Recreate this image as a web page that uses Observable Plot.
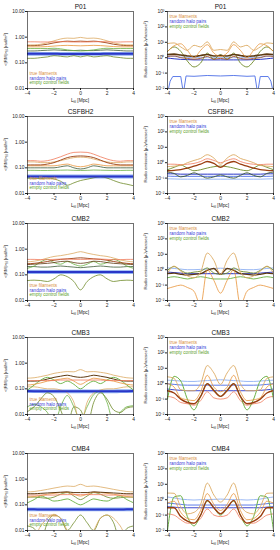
<!DOCTYPE html>
<html><head><meta charset="utf-8">
<script src="https://cdn.jsdelivr.net/npm/d3@7"></script>
<script src="https://cdn.jsdelivr.net/npm/@observablehq/plot@0.6"></script>
<style>
html,body{margin:0;padding:0;background:#fff;}
#chart{position:relative;width:280px;height:550px;overflow:hidden;font-family:"Liberation Sans",Arial,sans-serif;}
#chart .cell{position:absolute;width:140px;}
#chart svg{overflow:visible;}
</style></head><body><div id="chart"></div>
<script>
// ---------- shared axes ----------
const lfil = [-4,-3.5,-3,-2.5,-2,-1.5,-1,-0.5,0,0.5,1,1.5,2,2.5,3,3.5,4];
const xTicks = [-4,-2,0,2,4];
const rmTicks = [0.01,0.1,1,10];
const rmTickLabels = ["0.01","0.10","1.00","10.00"];
const radTicks = [1e-2,1e-1,1,1e1,1e2,1e3];
const radTickLabels = ["10\u207B\u00B2","10\u207B\u00B9","10\u2070","10\u00B9","10\u00B2","10\u00B3"];
const panelTitles = ["P01","CSFBH2","CMB2","CMB3","CMB4"];
const legendLabels = ["true filaments","random halo pairs","empty control fields"];

// ---------- <|RM|> panels (rad/m^2) ----------
const rmP01_salmon  = [0.66,0.66,0.65,0.65,0.66,0.67,0.66,0.65,0.65,0.65,0.66,0.67,0.66,0.65,0.65,0.66,0.66];
const rmP01_tan     = [0.50,0.50,0.53,0.60,0.72,0.85,0.92,0.90,0.98,0.90,0.92,0.85,0.72,0.60,0.53,0.50,0.50];
const rmP01_brown   = [0.47,0.47,0.49,0.53,0.60,0.66,0.70,0.68,0.70,0.68,0.70,0.66,0.60,0.53,0.49,0.47,0.47];
const rmP01_orange  = [0.42,0.42,0.42,0.43,0.45,0.47,0.48,0.47,0.46,0.47,0.48,0.47,0.45,0.43,0.42,0.42,0.42];
const rmP01_green   = [0.36,0.36,0.36,0.36,0.37,0.35,0.32,0.30,0.29,0.30,0.32,0.35,0.37,0.36,0.36,0.36,0.36];
const rmP01_olive   = [0.29,0.29,0.30,0.31,0.32,0.31,0.30,0.30,0.31,0.30,0.30,0.31,0.32,0.31,0.30,0.29,0.29];
const rmP01_blue    = [0.225,0.225,0.224,0.224,0.224,0.223,0.223,0.223,0.223,0.223,0.223,0.223,0.224,0.224,0.224,0.225,0.225];
const rmP01_oliveLo = [0.15,0.15,0.16,0.17,0.19,0.18,0.17,0.19,0.17,0.19,0.17,0.18,0.19,0.17,0.16,0.15,0.15];

const rmCS_salmon  = [0.19,0.19,0.18,0.19,0.22,0.27,0.34,0.40,0.41,0.40,0.34,0.27,0.22,0.19,0.18,0.19,0.19];
const rmCS_tan     = [0.17,0.17,0.16,0.16,0.17,0.19,0.22,0.25,0.26,0.25,0.22,0.19,0.17,0.16,0.16,0.17,0.17];
const rmCS_brown   = [0.13,0.13,0.13,0.14,0.16,0.20,0.25,0.28,0.29,0.28,0.25,0.20,0.16,0.14,0.13,0.13,0.13];
const rmCS_orange  = [0.12,0.12,0.12,0.12,0.12,0.13,0.14,0.12,0.11,0.12,0.14,0.13,0.12,0.12,0.12,0.12,0.12];
const rmCS_olive   = [0.10,0.10,0.10,0.10,0.10,0.11,0.12,0.10,0.09,0.10,0.12,0.11,0.10,0.10,0.10,0.10,0.10];
const rmCS_green   = [0.080,0.080,0.079,0.079,0.080,0.081,0.082,0.080,0.079,0.080,0.082,0.081,0.080,0.079,0.079,0.080,0.080];
const rmCS_blue    = [0.046,0.046,0.046,0.046,0.046,0.046,0.046,0.046,0.046,0.046,0.046,0.046,0.046,0.046,0.046,0.046,0.046];
const rmCS_oliveLo = [0.040,0.039,0.038,0.040,0.037,0.030,0.021,0.026,0.032,0.036,0.041,0.045,0.040,0.032,0.026,0.023,0.020];

const rmC2_salmon  = [0.40,0.40,0.39,0.39,0.40,0.41,0.41,0.40,0.40,0.40,0.41,0.41,0.40,0.39,0.39,0.40,0.40];
const rmC2_tan     = [0.32,0.34,0.38,0.45,0.52,0.56,0.62,0.70,0.80,0.70,0.62,0.56,0.52,0.45,0.38,0.34,0.32];
const rmC2_brown   = [0.27,0.28,0.30,0.33,0.37,0.40,0.42,0.44,0.46,0.44,0.42,0.40,0.37,0.33,0.30,0.28,0.27];
const rmC2_orange  = [0.25,0.26,0.27,0.28,0.30,0.33,0.34,0.30,0.28,0.30,0.34,0.33,0.30,0.28,0.27,0.26,0.25];
const rmC2_green   = [0.18,0.22,0.32,0.40,0.30,0.26,0.33,0.26,0.22,0.26,0.33,0.26,0.30,0.40,0.32,0.22,0.18];
const rmC2_olive   = [0.21,0.21,0.20,0.20,0.21,0.22,0.21,0.20,0.19,0.20,0.21,0.22,0.21,0.20,0.20,0.21,0.21];
const rmC2_blue    = [0.128,0.128,0.128,0.128,0.128,0.128,0.128,0.128,0.128,0.128,0.128,0.128,0.128,0.128,0.128,0.128,0.128];
const rmC2_oliveLo = [0.060,0.062,0.060,0.055,0.070,0.100,0.085,0.055,0.026,0.055,0.085,0.100,0.070,0.055,0.060,0.062,0.060];

const rmC3_tan     = [0.26,0.27,0.30,0.34,0.40,0.44,0.47,0.46,0.56,0.46,0.47,0.44,0.40,0.34,0.30,0.27,0.26];
const rmC3_salmon  = [0.21,0.21,0.21,0.21,0.21,0.22,0.22,0.22,0.22,0.22,0.22,0.22,0.21,0.21,0.21,0.21,0.21];
const rmC3_brown   = [0.20,0.20,0.21,0.24,0.28,0.31,0.34,0.30,0.28,0.30,0.34,0.31,0.28,0.24,0.21,0.20,0.20];
const rmC3_orange  = [0.14,0.15,0.17,0.20,0.22,0.24,0.26,0.20,0.15,0.20,0.26,0.24,0.22,0.20,0.17,0.15,0.14];
const rmC3_green   = [0.09,0.14,0.22,0.28,0.22,0.16,0.20,0.15,0.10,0.15,0.20,0.16,0.22,0.28,0.22,0.14,0.09];
const rmC3_blue    = [0.082,0.081,0.081,0.080,0.080,0.080,0.080,0.080,0.080,0.080,0.080,0.080,0.080,0.080,0.081,0.081,0.082];
const rmC3_tanLo   = [0.12,0.12,0.11,0.10,0.10,0.09,0.07,0.03,0.004,0.03,0.07,0.09,0.10,0.10,0.11,0.12,0.12];
const rmC3_oliveLo = [0.013,0.020,0.040,0.070,0.050,0.015,0.004,0.020,0.015,0.004,0.030,0.070,0.040,0.015,0.012,0.018,0.020];
const rmC3_greenLo = [0.020,0.025,0.020,0.012,0.004,0.020,0.055,0.020,0.006,0.020,0.060,0.080,0.030,0.005,0.012,0.020,0.022];

const rmC4_tan     = [0.32,0.33,0.36,0.40,0.45,0.50,0.54,0.52,0.63,0.52,0.54,0.50,0.45,0.40,0.36,0.33,0.32];
const rmC4_brown   = [0.27,0.27,0.28,0.29,0.30,0.31,0.32,0.30,0.30,0.30,0.32,0.31,0.30,0.29,0.28,0.27,0.27];
const rmC4_salmon  = [0.24,0.24,0.24,0.24,0.24,0.25,0.25,0.25,0.25,0.25,0.25,0.25,0.24,0.24,0.24,0.24,0.24];
const rmC4_orange  = [0.20,0.21,0.23,0.26,0.28,0.30,0.31,0.26,0.22,0.26,0.31,0.30,0.28,0.26,0.23,0.21,0.20];
const rmC4_green   = [0.20,0.20,0.19,0.18,0.20,0.26,0.30,0.22,0.16,0.22,0.30,0.26,0.20,0.18,0.19,0.20,0.20];
const rmC4_olive   = [0.12,0.16,0.22,0.18,0.14,0.15,0.17,0.13,0.10,0.13,0.17,0.15,0.14,0.18,0.22,0.16,0.12];
const rmC4_blue    = [0.067,0.067,0.066,0.066,0.066,0.066,0.066,0.066,0.066,0.066,0.066,0.066,0.066,0.066,0.066,0.067,0.067];
const rmC4_tanLo   = [0.010,0.006,0.015,0.030,0.040,0.030,0.010,0.004,0.002,0.004,0.010,0.030,0.040,0.030,0.015,0.006,0.010];
const rmC4_greenLo = [0.015,0.012,0.004,0.020,0.040,0.030,0.010,0.020,0.040,0.020,0.010,0.030,0.040,0.020,0.004,0.012,0.015];

// ---------- Radio emission panels (uJy/arcsec^2) ----------
const radP01_tan    = [8.3,9.1,5.0,3.0,6.4,5.0,10.7,3.0,3.4,3.0,10.7,5.0,6.4,3.0,5.0,9.1,8.3];
const radP01_orange = [2.5,6.0,8.0,3.0,1.0,3.0,7.0,2.0,1.2,2.0,7.0,3.0,1.0,3.0,8.0,6.0,2.5];
const radP01_olive  = [2.5,5.0,2.6,0.6,0.25,0.45,2.0,0.8,1.6,0.8,2.0,0.45,0.25,0.6,2.6,5.0,2.5];
const radP01_dbrown = [1.6,1.7,1.5,1.3,1.2,1.4,1.6,1.3,1.4,1.3,1.6,1.4,1.2,1.3,1.5,1.7,1.6];
const radP01_brown  = [1.2,1.3,1.0,0.9,0.8,0.9,1.2,0.8,0.9,0.8,1.2,0.9,0.8,0.9,1.0,1.3,1.2];
const radP01_lblue  = [1.3,1.2,1.1,1.05,1.0,1.0,1.0,1.0,1.0,1.0,1.0,1.0,1.0,1.05,1.1,1.2,1.3];
const radP01_blue   = [0.95,0.85,0.78,0.75,0.72,0.72,0.72,0.72,0.72,0.72,0.72,0.72,0.72,0.75,0.78,0.85,0.95];
const radP01_lowX   = [-4,-3.8,-3.6,-3.0,-2.8,-2.6,-2,-1,0,1,2,2.6,2.8,3.0,3.6,3.8,4];
const radP01_low    = [0.005,0.03,0.06,0.06,0.005,0.065,0.062,0.07,0.065,0.07,0.062,0.065,0.005,0.06,0.06,0.03,0.005];

const radCS_tan    = [0.55,0.6,0.66,1.0,1.4,1.9,3.3,2.0,0.8,2.0,3.3,1.9,1.4,1.0,0.66,0.6,0.55];
const radCS_salmon = [0.8,0.8,0.75,0.8,0.9,1.2,1.8,1.4,1.0,1.4,1.8,1.2,0.9,0.8,0.75,0.8,0.8];
const radCS_brown  = [0.30,0.32,0.35,0.45,0.6,0.8,1.2,0.9,0.5,0.9,1.2,0.8,0.6,0.45,0.35,0.32,0.30];
const radCS_olive  = [0.35,0.5,0.7,0.45,0.3,0.35,0.45,0.55,0.6,0.55,0.45,0.35,0.3,0.45,0.7,0.5,0.35];
const radCS_dgreen = [0.25,0.2,0.12,0.15,0.22,0.15,0.1,0.12,0.16,0.12,0.1,0.15,0.22,0.15,0.12,0.2,0.25];
const radCS_blue   = [0.19,0.19,0.18,0.18,0.18,0.18,0.18,0.18,0.18,0.18,0.18,0.18,0.18,0.18,0.18,0.19,0.19];
const radCS_mblue  = [0.135,0.13,0.13,0.13,0.13,0.13,0.13,0.13,0.13,0.13,0.13,0.13,0.13,0.13,0.13,0.13,0.135];
const radCS_lblue  = [0.09,0.088,0.085,0.085,0.085,0.085,0.085,0.085,0.085,0.085,0.085,0.085,0.085,0.085,0.085,0.088,0.09];

const radC2_tan    = [0.6,1.7,0.8,0.4,0.3,0.7,12,4.0,0.5,4.0,12,0.7,0.3,0.4,0.8,1.7,0.6];
const radC2_orange = [0.06,0.08,0.1,0.07,0.04,0.005,1.0,0.2,0.03,0.2,1.0,0.005,0.04,0.07,0.1,0.08,0.06];
const radC2_olive  = [0.9,1.6,0.9,0.6,0.7,0.8,1.3,0.6,0.5,0.6,1.3,0.8,0.7,0.6,0.9,1.6,0.9];
const radC2_dbrown = [0.55,0.6,0.5,0.45,0.5,0.55,0.9,1.2,0.5,1.2,0.9,0.55,0.5,0.45,0.5,0.6,0.55];
const radC2_lblue  = [1.3,1.2,1.1,1.0,1.0,1.05,1.1,1.2,1.25,1.2,1.1,1.05,1.0,1.0,1.1,1.2,1.3];
const radC2_blue   = [0.7,0.65,0.6,0.55,0.55,0.55,0.55,0.55,0.55,0.55,0.55,0.55,0.55,0.55,0.6,0.65,0.7];
const radC2_green  = [0.3,0.35,0.3,0.25,0.3,0.35,0.3,0.25,0.25,0.25,0.3,0.35,0.3,0.25,0.3,0.35,0.3];

const radC3_tan    = [2.8,2.2,0.4,0.35,0.35,1.0,15,5.0,0.9,5.0,15,1.0,0.35,0.35,0.4,2.2,2.8];
const radC3_orange = [1.0,0.6,0.12,0.09,0.08,0.3,3.5,0.6,0.3,0.6,3.5,0.3,0.08,0.09,0.12,0.6,1.0];
const radC3_olive  = [0.1,3.0,1.5,0.1,0.02,0.15,1.0,0.4,0.15,0.4,1.0,0.15,0.02,0.1,1.5,3.0,0.1];
const radC3_dbrown = [0.35,0.25,0.1,0.06,0.05,0.15,1.0,0.35,0.15,0.35,1.0,0.15,0.05,0.06,0.1,0.25,0.35];
const radC3_salmon = [0.15,0.12,0.06,0.05,0.04,0.08,0.3,0.12,0.1,0.12,0.3,0.08,0.04,0.05,0.06,0.12,0.15];
const radC3_lblue  = [1.7,1.6,1.5,1.4,1.4,1.5,1.6,1.7,1.8,1.7,1.6,1.5,1.4,1.4,1.5,1.6,1.7];
const radC3_blue   = [1.0,0.9,0.82,0.8,0.8,0.8,0.8,0.8,0.8,0.8,0.8,0.8,0.8,0.8,0.82,0.9,1.0];
const radC3_mblue  = [0.45,0.4,0.37,0.35,0.35,0.35,0.35,0.35,0.35,0.35,0.35,0.35,0.35,0.35,0.37,0.4,0.45];

const radC4_tan    = [2.7,2.6,0.35,0.12,0.15,0.5,12,2.0,0.7,2.0,12,0.5,0.15,0.12,0.35,2.6,2.7];
const radC4_orange = [0.6,0.8,0.15,0.06,0.05,0.2,2.5,0.5,0.2,0.5,2.5,0.2,0.05,0.06,0.15,0.8,0.6];
const radC4_olive  = [0.01,1.5,1.8,0.08,0.02,0.1,0.8,0.3,0.1,0.3,0.8,0.1,0.02,0.08,1.8,1.5,0.01];
const radC4_dbrown = [0.3,0.3,0.08,0.04,0.03,0.1,0.9,0.3,0.12,0.3,0.9,0.1,0.03,0.04,0.08,0.3,0.3];
const radC4_salmon = [0.12,0.1,0.05,0.03,0.03,0.06,0.25,0.1,0.08,0.1,0.25,0.06,0.03,0.03,0.05,0.1,0.12];
const radC4_lblue  = [1.5,1.3,1.1,1.0,0.95,1.0,1.0,1.05,1.1,1.05,1.0,1.0,0.95,1.0,1.1,1.3,1.5];
const radC4_blue   = [0.6,0.55,0.5,0.45,0.45,0.45,0.45,0.45,0.45,0.45,0.45,0.45,0.45,0.45,0.5,0.55,0.6];
const radC4_mblue  = [0.35,0.33,0.3,0.3,0.3,0.3,0.3,0.3,0.3,0.3,0.3,0.3,0.3,0.3,0.3,0.33,0.35];

// ---------- styling ----------
const COL = {salmon:"#f07a5a", tan:"#dcaa62", orange:"#e8943a", brown:"#9a3d10", dbrown:"#5e3a12",
  green:"#68b040", olive:"#6f8a28", dgreen:"#3e5a36", blue:"#2a36c8", mblue:"#4d6ee6", lblue:"#8fb0f2"};
const legendColors = ["#d8903c","#3a3ad8","#5ca028"];

const rowTops = [11,116,223,337,453];
const FT = 14, FH = 77, FB = 20, ML = 27, MR = 7;

const panels = [
  {row:0, col:0, kind:"rm", lines:[[rmP01_blue,"lblue",3.8],[rmP01_oliveLo,"olive",0.8],[rmP01_olive,"dgreen",0.8],[rmP01_green,"green",0.8],[rmP01_blue,"blue",2.0],[rmP01_orange,"orange",0.8],[rmP01_brown,"brown",0.9],[rmP01_tan,"tan",0.8],[rmP01_salmon,"salmon",0.8]]},
  {row:0, col:1, kind:"rad", lines:[[radP01_low,"mblue",0.9,radP01_lowX],[radP01_lblue,"lblue",0.9],[radP01_blue,"blue",1.0],[radP01_olive,"olive",0.9],[radP01_brown,"brown",0.8],[radP01_dbrown,"dbrown",1.6],[radP01_orange,"orange",0.8],[radP01_tan,"tan",0.9]]},
  {row:1, col:0, kind:"rm", lines:[[rmCS_blue,"lblue",3.8],[rmCS_oliveLo,"olive",0.8],[rmCS_green,"green",0.8],[rmCS_olive,"dgreen",0.8],[rmCS_blue,"blue",2.0],[rmCS_orange,"orange",0.8],[rmCS_tan,"tan",0.8],[rmCS_brown,"brown",0.9],[rmCS_salmon,"salmon",0.8]]},
  {row:1, col:1, kind:"rad", lines:[[radCS_lblue,"lblue",0.9],[radCS_mblue,"mblue",0.9],[radCS_blue,"blue",1.0],[radCS_dgreen,"dgreen",0.9],[radCS_olive,"olive",0.9],[radCS_brown,"brown",1.3],[radCS_salmon,"salmon",0.8],[radCS_tan,"tan",0.9]]},
  {row:2, col:0, kind:"rm", lines:[[rmC2_blue,"lblue",3.8],[rmC2_oliveLo,"olive",0.8],[rmC2_olive,"dgreen",0.8],[rmC2_green,"green",0.8],[rmC2_blue,"blue",2.0],[rmC2_orange,"dbrown",0.8],[rmC2_brown,"brown",0.9],[rmC2_tan,"tan",0.8],[rmC2_salmon,"salmon",0.8]]},
  {row:2, col:1, kind:"rad", lines:[[radC2_green,"green",0.9],[radC2_blue,"blue",1.0],[radC2_lblue,"lblue",0.9],[radC2_olive,"olive",0.9],[radC2_dbrown,"dbrown",1.3],[radC2_orange,"orange",0.8],[radC2_tan,"tan",0.9]]},
  {row:3, col:0, kind:"rm", lines:[[rmC3_blue,"lblue",3.8],[rmC3_greenLo,"green",0.8],[rmC3_oliveLo,"olive",0.8],[rmC3_tanLo,"tan",0.8],[rmC3_green,"green",0.9],[rmC3_blue,"blue",2.0],[rmC3_orange,"orange",0.8],[rmC3_brown,"dbrown",1.0],[rmC3_salmon,"salmon",0.8],[rmC3_tan,"tan",0.8]]},
  {row:3, col:1, kind:"rad", lines:[[radC3_mblue,"blue",0.9],[radC3_blue,"mblue",0.9],[radC3_lblue,"lblue",0.9],[radC3_salmon,"salmon",0.8],[radC3_olive,"green",1.0],[radC3_dbrown,"brown",1.4],[radC3_orange,"orange",0.8],[radC3_tan,"tan",0.9]]},
  {row:4, col:0, kind:"rm", lines:[[rmC4_blue,"lblue",3.8],[rmC4_greenLo,"olive",0.8],[rmC4_tanLo,"tan",0.8],[rmC4_olive,"green",0.9],[rmC4_green,"olive",0.8],[rmC4_blue,"blue",2.0],[rmC4_orange,"orange",0.8],[rmC4_salmon,"salmon",0.8],[rmC4_brown,"dbrown",1.0],[rmC4_tan,"tan",0.8]]},
  {row:4, col:1, kind:"rad", lines:[[radC4_mblue,"blue",0.9],[radC4_blue,"mblue",0.9],[radC4_lblue,"lblue",0.9],[radC4_salmon,"salmon",0.8],[radC4_olive,"green",1.0],[radC4_dbrown,"brown",1.4],[radC4_orange,"orange",0.8],[radC4_tan,"tan",0.9]]}
];

const chart = document.getElementById("chart");

function makePanel(p) {
  const rm = p.kind === "rm";
  const marks = [];
  for (const [vals, c, w, xarr] of p.lines) {
    const xv = xarr || lfil;
    const rows = vals.map((v, i) => ({x: xv[i], y: v}));
    marks.push(Plot.line(rows, {x: "x", y: "y", stroke: COL[c], strokeWidth: w,
      curve: xarr ? "linear" : "monotone-x", clip: true}));
  }
  marks.push(Plot.frame({stroke: "#111", strokeWidth: 0.6}));
  const legDy = rm ? [60, 64.8, 69.6] : [3.6, 8.4, 13.2];
  legendLabels.forEach((t, i) => marks.push(Plot.text([t], {text: d => d, frameAnchor: "top-left",
    dx: 2, dy: legDy[i], fill: legendColors[i], fontSize: 4.6, textAnchor: "start"})));
  marks.push(Plot.text([panelTitles[p.row]], {text: d => d, frameAnchor: "top", dy: -7, fontSize: 6.5, fill: "#111"}));

  const svg = Plot.plot({
    width: 140, height: FT + FH + FB,
    marginTop: FT, marginBottom: FB, marginLeft: ML, marginRight: MR,
    style: {fontSize: "4.9px", fontFamily: "Liberation Sans, Arial, sans-serif", background: "none", color: "#222"},
    x: {domain: [-4, 4], ticks: xTicks, tickSize: 2, tickPadding: 1, label: null},
    y: {type: "log", domain: rm ? [0.01, 10] : [1e-2, 1e3], ticks: rm ? rmTicks : radTicks,
        tickFormat: rm ? (d => rmTickLabels[rmTicks.indexOf(d)]) : (d => radTickLabels[radTicks.indexOf(d)]),
        tickSize: 2, tickPadding: 1, label: null},
    marks
  });
  const s = d3.select(svg);
  // x label with subscript
  const xl = s.append("text").attr("x", ML + (140 - ML - MR) / 2).attr("y", FT + FH + 14)
    .attr("text-anchor", "middle").attr("font-size", 4.8).attr("fill", "#222");
  xl.append("tspan").text("L");
  xl.append("tspan").attr("dy", 1.2).attr("font-size", 3.4).text("fil");
  xl.append("tspan").attr("dy", -1.2).text(" [Mpc]");
  // y label
  const yl = s.append("text").attr("transform", `translate(7,${FT + FH / 2}) rotate(-90)`)
    .attr("text-anchor", "middle").attr("font-size", 4.4).attr("fill", "#222");
  if (rm) {
    yl.append("tspan").text("<|RM|>");
    yl.append("tspan").attr("dy", 1.2).attr("font-size", 3.2).text("fil");
    yl.append("tspan").attr("dy", -1.2).text(" [rad/m\u00B2]");
  } else {
    yl.text("Radio emission [\u03BCJy/arcsec\u00B2]");
  }
  const cell = document.createElement("div");
  cell.className = "cell";
  cell.style.left = (p.col * 140) + "px";
  cell.style.top = (rowTops[p.row] - FT) + "px";
  cell.appendChild(svg);
  chart.appendChild(cell);
}
panels.forEach(makePanel);
</script></body></html>
